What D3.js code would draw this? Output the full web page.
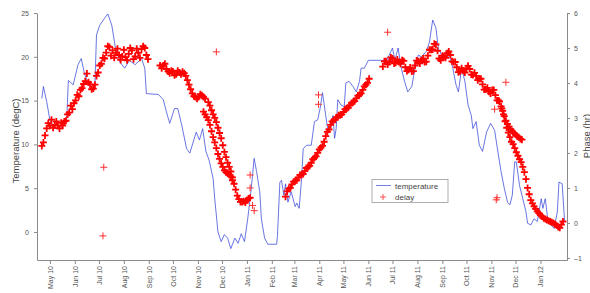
<!DOCTYPE html>
<html><head><meta charset="utf-8">
<script src="https://cdn.jsdelivr.net/npm/d3@7"></script>
<style>
html,body{margin:0;padding:0;background:#fff;}
svg{display:block;font-family:"Liberation Sans",Arial,sans-serif;}
</style></head>
<body><div id="chart"></div>
<script>
// ---------- DATA ----------
const tempDates = [
 "2010-04-21","2010-04-23","2010-04-27","2010-05-01","2010-05-07","2010-05-15","2010-05-22","2010-05-24","2010-05-30",
 "2010-06-05","2010-06-09","2010-06-13","2010-06-18","2010-06-22","2010-06-26","2010-06-28",
 "2010-07-02","2010-07-08","2010-07-12","2010-07-17","2010-07-21","2010-07-27",
 "2010-08-02","2010-08-08","2010-08-15","2010-08-23","2010-08-27","2010-08-29",
 "2010-09-13","2010-09-19","2010-09-23","2010-09-27",
 "2010-10-03","2010-10-07","2010-10-12","2010-10-18","2010-10-22","2010-10-30",
 "2010-11-03","2010-11-07","2010-11-11","2010-11-15","2010-11-20","2010-11-22","2010-11-26","2010-11-30",
 "2010-12-04","2010-12-08","2010-12-12","2010-12-17","2010-12-21","2010-12-25","2010-12-29",
 "2011-01-02","2011-01-06","2011-01-10","2011-01-13","2011-01-17","2011-01-19","2011-01-23","2011-01-27",
 "2011-02-07","2011-02-08","2011-02-11","2011-02-13","2011-02-16","2011-02-18","2011-02-21","2011-02-25",
 "2011-03-02","2011-03-04","2011-03-07","2011-03-10","2011-03-12","2011-03-16","2011-03-22","2011-03-26","2011-03-30",
 "2011-04-02","2011-04-05","2011-04-09","2011-04-12","2011-04-15","2011-04-18","2011-04-20","2011-04-22","2011-04-24","2011-04-28",
 "2011-05-02","2011-05-04","2011-05-08","2011-05-13","2011-05-17","2011-05-21","2011-05-23","2011-05-27",
 "2011-06-01","2011-06-24",
 "2011-07-01","2011-07-04","2011-07-08","2011-07-12","2011-07-16","2011-07-20","2011-07-25","2011-07-29",
 "2011-08-02","2011-08-06","2011-08-12","2011-08-16","2011-08-20","2011-08-24","2011-08-27","2011-08-31",
 "2011-09-06","2011-09-10","2011-09-14","2011-09-18","2011-09-21","2011-09-25","2011-09-29",
 "2011-10-03","2011-10-07","2011-10-09","2011-10-13","2011-10-17","2011-10-21","2011-10-26","2011-10-31",
 "2011-11-05","2011-11-09","2011-11-13","2011-11-17","2011-11-21","2011-11-24","2011-11-27","2011-11-30",
 "2011-12-02","2011-12-06","2011-12-10","2011-12-14","2011-12-16","2011-12-20","2011-12-24","2011-12-28",
 "2012-01-02","2012-01-04","2012-01-07","2012-01-10","2012-01-14","2012-01-18","2012-01-22","2012-01-24","2012-01-28","2012-01-31"
];
const tempValues = [
 15.25,16.6,14.9,12.8,11.8,11.8,13.0,17.3,16.8,
 19.1,19.8,18.1,16.8,16.2,16.8,22.5,
 23.6,24.4,24.9,23.6,21.3,19.4,
 18.7,19.6,19.1,19.8,18.7,15.8,
 15.7,15.1,13.7,12.4,
 14.1,14.1,12.2,9.5,9.0,11.4,
 10.5,11.8,9.2,8.2,6.1,3.8,0.0,-1.1,
 -0.3,-0.7,-1.9,-0.7,-1.3,-0.2,-1.1,
 1.5,4.6,8.4,6.9,4.6,1.5,-0.7,-1.4,
 -1.4,-0.4,5.7,5.9,4.2,5.5,3.4,4.6,
 2.9,3.3,2.7,6.1,9.5,9.9,9.9,12.6,12.8,
 14.1,15.9,13.3,11.4,11.8,13.3,10.7,11.8,15.1,14.5,
 14.3,17.0,17.2,16.6,16.0,17.2,18.7,18.7,
 19.6,19.6,
 21.0,19.6,21.0,18.7,17.2,16.0,16.6,18.7,
 20.2,20.0,20.6,21.7,24.2,23.3,21.0,20.2,
 19.8,20.2,18.7,16.8,16.0,18.7,17.2,
 14.5,13.3,11.8,12.6,9.9,9.2,11.4,12.4,
 11.6,9.2,6.9,5.0,3.4,3.1,4.2,8.0,
 8.0,5.3,3.8,2.3,1.0,0.8,1.5,1.2,
 3.8,2.7,3.8,1.5,0.8,0.4,2.3,5.7,5.5,1.2
];

// delay (hr): each run of readings starts at delayStarts[i] and is sampled every delaySteps[i] days
const delayStarts = ["2010-04-21","2010-04-23","2010-09-15","2010-09-17","2010-11-14","2010-11-08",
                     "2011-02-18","2011-02-20","2011-06-19","2011-06-21","2011-11-14","2011-11-11"];
const delaySteps  = [4,4,4,4,2,2,4,4,4,4,2,2];
const delaySummer10a = [2.2,2.5,2.85,2.95,2.8,2.78,2.86,2.9,3.1,3.35,3.42,3.66,3.8,3.97,4.27,3.96,3.84,4.2,4.5,4.72,4.87,5.03,4.93,4.86,4.8,4.76,4.74,4.83,4.93,4.76,4.86,4.97,5.0,4.68];
const delaySummer10b = [2.3,2.7,2.78,2.72,2.9,2.7,2.78,2.92,3.15,3.25,3.5,3.62,3.85,4.05,4.02,3.82,3.95,4.3,4.55,4.7,5.05,4.78,4.72,4.98,4.66,4.95,4.65,5.0,4.68,4.98,4.72,5.05,4.8];
const delayAutumn10a = [4.5,4.5,4.4,4.28,4.33,4.25,4.3,4.32,4.2,3.95,3.7,3.6,3.6,3.65,3.55];
const delayAutumn10b = [4.42,4.55,4.33,4.35,4.22,4.35,4.25,4.28,4.08,3.82,3.62,3.55,3.68,3.6];
const delayFall10    = [3.45,3.35,3.22,3.1,3.0,2.88,2.72,2.57,2.42,2.22,2.03,1.88,1.72,1.6,1.47,1.3,1.12,0.95,0.78,0.68,0.6,0.6,0.62,0.58,0.65,0.7,0.72];
const delayFall10Low = [3.18,3.1,3.02,2.94,2.8,2.62,2.45,2.3,2.14,1.97,1.83,1.7,1.6,1.5,1.45,1.42,1.38,1.33,1.22];
const delaySpring11a = [0.75,0.98,1.1,1.2,1.3,1.38,1.48,1.6,1.72,1.86,2.0,2.15,2.32,2.6,2.8,2.94,3.02,3.08,3.17,3.27,3.36,3.45,3.56,3.66,3.8,3.95,4.12];
const delaySpring11b = [0.9,1.0,1.18,1.22,1.37,1.4,1.57,1.63,1.82,1.9,2.1,2.2,2.48,2.67,2.9,2.95,3.08,3.1,3.25,3.29,3.43,3.48,3.64,3.7,3.9,4.0];
const delaySummer11a = [4.47,4.62,4.6,4.7,4.58,4.6,4.65,4.45,4.38,4.33,4.5,4.62,4.65,4.6,4.78,4.95,5.12,4.92,4.65,4.75,4.85,4.8,4.6,4.45,4.33,4.35,4.42,4.4,4.23,4.2,4.12,3.96,3.82,3.75,3.8,3.65,3.5];
const delaySummer11b = [4.62,4.53,4.73,4.56,4.67,4.55,4.63,4.34,4.44,4.34,4.64,4.56,4.7,4.61,4.95,4.96,5.1,4.7,4.78,4.72,4.9,4.62,4.6,4.31,4.42,4.3,4.49,4.24,4.29,4.08,4.12,3.81,3.86,3.7,3.8,3.5];
const delayFall11    = [3.27,3.1,2.9,2.72,2.58,2.45,2.32,2.25,2.14,2.02,1.92,1.82,1.74,1.6,1.45,1.25,1.0,0.82,0.65,0.56,0.47,0.4,0.33,0.28,0.22,0.18,0.13,0.11,0.08,0.06,0.04,0.02,0.0,-0.03,-0.07,-0.12,-0.14,-0.05,0.04];
const delayFall11Side = [3.47,3.33,3.2,3.05,2.92,2.83,2.75,2.68,2.62,2.57,2.52,2.48,2.45,2.4,2.38];
const delayOutlierDates = ["2010-07-06","2010-07-07","2010-11-24","2011-01-05","2011-01-05","2011-01-08","2011-01-10","2011-03-31","2011-03-31","2011-06-25","2011-11-05","2011-11-07","2011-11-08","2011-11-19"];
const delayOutlierValues = [-0.37,1.59,4.89,1.37,1.0,0.5,0.35,3.66,3.39,5.45,3.25,0.66,0.72,4.02];

const xTickMonths = ["2010-05-01","2010-06-01","2010-07-01","2010-08-01","2010-09-01","2010-10-01","2010-11-01","2010-12-01",
 "2011-01-01","2011-02-01","2011-03-01","2011-04-01","2011-05-01","2011-06-01","2011-07-01","2011-08-01","2011-09-01",
 "2011-10-01","2011-11-01","2011-12-01","2012-01-01"];
const leftTicks = [0,5,10,15,20,25];
const rightTicks = [-1,0,1,2,3,4,5,6];

// ---------- CHART ----------
const W = 590, H = 293;
const parse = d3.utcParse("%Y-%m-%d");
const svg = d3.select("#chart").append("svg").attr("width", W).attr("height", H);

const x = d3.scaleUtc().domain([parse("2010-04-15"), parse("2012-02-03")]).range([37, 567]);
const yL = d3.scaleLinear().domain([-3.2, 25]).range([260, 13]);
const yR = d3.scaleLinear().domain([-1.06, 6]).range([260, 13]);

const axisColor = "#8a8a8a", textColor = "#555";

function styleAxis(g) {
  g.select(".domain").attr("stroke", axisColor).attr("stroke-width", 1);
  g.selectAll(".tick line").attr("stroke", axisColor);
  g.selectAll(".tick text").attr("fill", textColor).style("font-size", "7px")
    .style("font-family", '"Liberation Sans",Arial,sans-serif');
}

const gx = svg.append("g").attr("transform", "translate(0,260)")
  .call(d3.axisBottom(x).tickValues(xTickMonths.map(parse)).tickFormat(d3.utcFormat("%b %y"))
    .tickSize(4).tickSizeOuter(0));
styleAxis(gx);
gx.selectAll(".tick text").attr("transform", "rotate(-90)").attr("x", -6).attr("y", 0)
  .attr("dy", "0.35em").style("text-anchor", "end");

const gl = svg.append("g").attr("transform", "translate(37,0)")
  .call(d3.axisLeft(yL).tickValues(leftTicks).tickSize(3).tickSizeOuter(0).tickPadding(5));
styleAxis(gl);

const gr = svg.append("g").attr("transform", "translate(567,0)")
  .call(d3.axisRight(yR).tickValues(rightTicks).tickFormat(d => d < 0 ? "\u2013" + Math.abs(d) : d)
    .tickSize(3).tickSizeOuter(0).tickPadding(4));
styleAxis(gr);

svg.append("text").attr("transform", "translate(19,141) rotate(-90)").attr("text-anchor", "middle")
  .attr("fill", "#444").style("font-size", "9.5px").text("Temperature (degC)");
svg.append("text").attr("transform", "translate(590,136) rotate(-90)").attr("text-anchor", "middle")
  .attr("fill", "#444").style("font-size", "9.5px").text("Phase (hr)");

// temperature line
const tempData = tempDates.map((d, i) => ({ date: parse(d), v: tempValues[i] }));
svg.append("path").datum(tempData)
  .attr("fill", "none").attr("stroke", "#3040d8").attr("stroke-width", 0.8).attr("stroke-opacity", 0.9)
  .attr("d", d3.line().x(d => x(d.date)).y(d => yL(d.v)));

// delay points
const delayRuns = [delaySummer10a, delaySummer10b, delayAutumn10a, delayAutumn10b, delayFall10, delayFall10Low,
                   delaySpring11a, delaySpring11b, delaySummer11a, delaySummer11b, delayFall11, delayFall11Side];
const delayData = [];
delayRuns.forEach((vals, s) => {
  const start = parse(delayStarts[s]);
  vals.forEach((v, i) => delayData.push({ date: d3.utcDay.offset(start, i * delaySteps[s]), v, lone: false }));
});
delayOutlierDates.forEach((d, i) => delayData.push({ date: parse(d), v: delayOutlierValues[i], lone: true }));

const plus = "M-3.5,0H3.5M0,-3.5V3.5";
svg.append("g").selectAll("path").data(delayData).join("path")
  .attr("transform", d => `translate(${x(d.date)},${yR(d.v)})`)
  .attr("d", plus).attr("fill", "none")
  .attr("stroke", d => d.lone ? "#ff3030" : "#ff0000")
  .attr("stroke-width", d => d.lone ? 1.0 : 1.8);

// legend
const lg = svg.append("g");
lg.append("rect").attr("x", 372).attr("y", 179.5).attr("width", 76).attr("height", 23)
  .attr("fill", "#fff").attr("stroke", "#9a9a9a").attr("stroke-width", 0.8);
lg.append("line").attr("x1", 376).attr("x2", 391).attr("y1", 185.5).attr("y2", 185.5)
  .attr("stroke", "#5060e0").attr("stroke-width", 0.8);
lg.append("path").attr("transform", "translate(383,197)").attr("d", "M-3,0H3M0,-3V3")
  .attr("stroke", "#ff4040").attr("stroke-width", 0.9).attr("fill", "none");
lg.append("text").attr("x", 395).attr("y", 188.5).attr("fill", "#444").style("font-size", "8px").text("temperature");
lg.append("text").attr("x", 395).attr("y", 199.5).attr("fill", "#444").style("font-size", "8px").text("delay");
</script></body></html>
